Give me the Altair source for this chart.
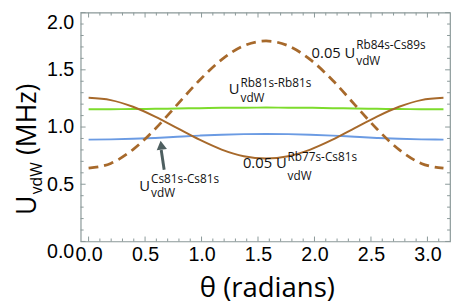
import altair as alt
import pandas as pd

# ---- data ----
theta = [0.0, 0.196, 0.393, 0.589, 0.785, 0.982, 1.178, 1.374, 1.571,
         1.767, 1.963, 2.160, 2.356, 2.553, 2.749, 2.945, 3.142]
u_rb81_rb81 = [1.155, 1.156, 1.157, 1.159, 1.162, 1.165, 1.168, 1.169, 1.170,
               1.169, 1.168, 1.165, 1.162, 1.159, 1.157, 1.156, 1.155]
u_cs81_cs81 = [0.890, 0.892, 0.897, 0.905, 0.915, 0.925, 0.933, 0.938, 0.940,
               0.938, 0.933, 0.925, 0.915, 0.905, 0.897, 0.892, 0.890]
u_rb77_cs81 = [1.255, 1.235, 1.177, 1.091, 0.990, 0.889, 0.803, 0.745, 0.725,
               0.745, 0.803, 0.889, 0.990, 1.091, 1.177, 1.235, 1.255]
u_rb84_cs89 = [0.640, 0.682, 0.803, 0.983, 1.196, 1.409, 1.589, 1.710, 1.752,
               1.710, 1.589, 1.409, 1.196, 0.983, 0.803, 0.682, 0.640]

x_major = [0.0, 0.5, 1.0, 1.5, 2.0, 2.5, 3.0]
x_minor = [0.1, 0.2, 0.3, 0.4, 0.6, 0.7, 0.8, 0.9, 1.1, 1.2, 1.3, 1.4,
           1.6, 1.7, 1.8, 1.9, 2.1, 2.2, 2.3, 2.4, 2.6, 2.7, 2.8, 2.9, 3.1]
y_major = [0.0, 0.5, 1.0, 1.5, 2.0]
y_minor = [0.1, 0.2, 0.3, 0.4, 0.6, 0.7, 0.8, 0.9, 1.1, 1.2, 1.3, 1.4,
           1.6, 1.7, 1.8, 1.9]

label_main = ["0.05 U", "U", "U", "0.05 U"]
label_sup = ["Rb84s-Cs89s", "Rb81s-Rb81s", "Cs81s-Cs81s", "Rb77s-Cs81s"]
label_sub = ["vdW", "vdW", "vdW", "vdW"]
label_x = [2.370, 1.345, 0.553, 1.762]
label_y_main = [1.648, 1.330, 0.481, 0.687]
label_y_sup = [1.717, 1.382, 0.541, 0.738]
label_y_sub = [1.579, 1.253, 0.421, 0.575]

arrow_tail = (0.669, 0.627)
arrow_neck = (0.643, 0.800)
arrow_head = (0.643, 0.841)

# ---- styling ----
W, H = 376, 233
GREEN, BLUE, BROWN = "#7ddc2c", "#6b9be3", "#a7692b"
FRAME = "#8a9898"
ARROW = "#4e5f60"
TFONT = "Open Sans"

xs = alt.Scale(domain=[-0.07, 3.2], nice=False, zero=False)
ys = alt.Scale(domain=[0, 2], nice=False, zero=False)

XAXIS = alt.Axis(values=x_major, format=".1f", title=None, ticks=False, domain=False,
                 grid=False, labelFlush=False, labelPadding=3, labelFont="Liberation Sans",
                 labelFontSize=20, labelColor="black")
YAXIS = alt.Axis(values=y_major, format=".1f", title=None, ticks=False, domain=False,
                 grid=False, labelPadding=7, labelFont="Liberation Sans",
                 labelFontSize=20, labelColor="black",
                 labelBaseline={"condition": {"test": "datum.value == 0 || datum.value == 2",
                                              "value": "top"}, "value": "middle"})

def X(field):
    return alt.X(field, type="quantitative", scale=xs, axis=XAXIS)

def Y(field):
    return alt.Y(field, type="quantitative", scale=ys, axis=YAXIS)

solid = pd.DataFrame({
    "theta": theta * 3,
    "u": u_rb81_rb81 + u_cs81_cs81 + u_rb77_cs81,
    "series": ["Rb81s-Rb81s"] * len(theta) + ["Cs81s-Cs81s"] * len(theta)
              + ["Rb77s-Cs81s"] * len(theta),
})
dashed = pd.DataFrame({"theta": theta, "u": u_rb84_cs89})

lines = alt.Chart(solid).mark_line(strokeWidth=2, interpolate="monotone").encode(
    x=X("theta"), y=Y("u"),
    color=alt.Color("series:N", legend=None, scale=alt.Scale(
        domain=["Rb81s-Rb81s", "Cs81s-Cs81s", "Rb77s-Cs81s"],
        range=[GREEN, BLUE, BROWN])),
)

dash_line = alt.Chart(dashed).mark_line(
    strokeWidth=2.8, strokeDash=[10, 6], color=BROWN, interpolate="monotone"
).encode(x=X("theta"), y=Y("u"))

def xticks(vals, length):
    d = pd.DataFrame({"theta": vals})
    b = alt.Chart(d).mark_rule(color=FRAME, strokeWidth=1).encode(
        x=X("theta"), y=alt.value(H), y2=alt.value(H - length))
    t = alt.Chart(d).mark_rule(color=FRAME, strokeWidth=1).encode(
        x=X("theta"), y=alt.value(0), y2=alt.value(length))
    return [b, t]

def yticks(vals, length):
    d = pd.DataFrame({"u": vals})
    l = alt.Chart(d).mark_rule(color=FRAME, strokeWidth=1).encode(
        y=Y("u"), x=alt.value(0), x2=alt.value(length))
    r = alt.Chart(d).mark_rule(color=FRAME, strokeWidth=1).encode(
        y=Y("u"), x=alt.value(W), x2=alt.value(W - length))
    return [l, r]

ticks = xticks(x_major, 5) + xticks(x_minor, 3) + yticks(y_major, 5) + yticks(y_minor, 3)

lab = pd.DataFrame({
    "main": label_main, "sup": label_sup, "sub": label_sub, "theta": label_x,
    "ym": label_y_main, "ysup": label_y_sup, "ysub": label_y_sub,
})
t_main = alt.Chart(lab).mark_text(align="right", baseline="middle", dx=-1,
                                  font=TFONT, fontSize=15, color="#111").encode(
    x=X("theta"), y=Y("ym"), text="main:N")
t_sup = alt.Chart(lab).mark_text(align="left", baseline="middle",
                                 font=TFONT, fontSize=12, color="#111").encode(
    x=X("theta"), y=Y("ysup"), text="sup:N")
t_sub = alt.Chart(lab).mark_text(align="left", baseline="middle",
                                 font=TFONT, fontSize=12, color="#111").encode(
    x=X("theta"), y=Y("ysub"), text="sub:N")

arr = pd.DataFrame({"theta": [arrow_tail[0]], "u": [arrow_tail[1]],
                    "x2": [arrow_neck[0]], "y2": [arrow_neck[1]],
                    "hx": [arrow_head[0]], "hy": [arrow_head[1]]})
shaft = alt.Chart(arr).mark_rule(color=ARROW, strokeWidth=3).encode(
    x=X("theta"), y=Y("u"), x2="x2:Q", y2="y2:Q")
head = alt.Chart(arr).mark_point(shape="triangle-up", filled=True, size=110,
                                 angle=352, color=ARROW, opacity=1).encode(
    x=X("hx"), y=Y("hy"))

# axis titles as text
title_df = pd.DataFrame({"a": [0]})
def ttext(txt, x, y, size, align="left", angle=0, baseline="alphabetic"):
    kw = dict(align=align, baseline=baseline, font=TFONT, fontSize=size,
              color="black", text=txt)
    if angle:
        kw["angle"] = angle
    return alt.Chart(title_df).mark_text(**kw).encode(x=alt.value(x), y=alt.value(y))

titles = [
    ttext("θ (radians)", 190, 290, 28, align="center"),
    ttext("U", -45, 206, 27, angle=270),
    ttext("vdW", -39, 185, 16, angle=270),
    ttext("(MHz)", -45, 145, 27, angle=270),
]

chart = alt.layer(
    lines, dash_line, *ticks, shaft, head, t_main, t_sup, t_sub, *titles
).properties(
    width=W, height=H,
    autosize=alt.AutoSizeParams(type="none"),
    padding={"left": 74, "top": 2, "right": 1, "bottom": 62},
).configure_view(stroke=FRAME, strokeWidth=1.2)

chart.save("out.html", embed_options={"renderer": "svg", "actions": False})
